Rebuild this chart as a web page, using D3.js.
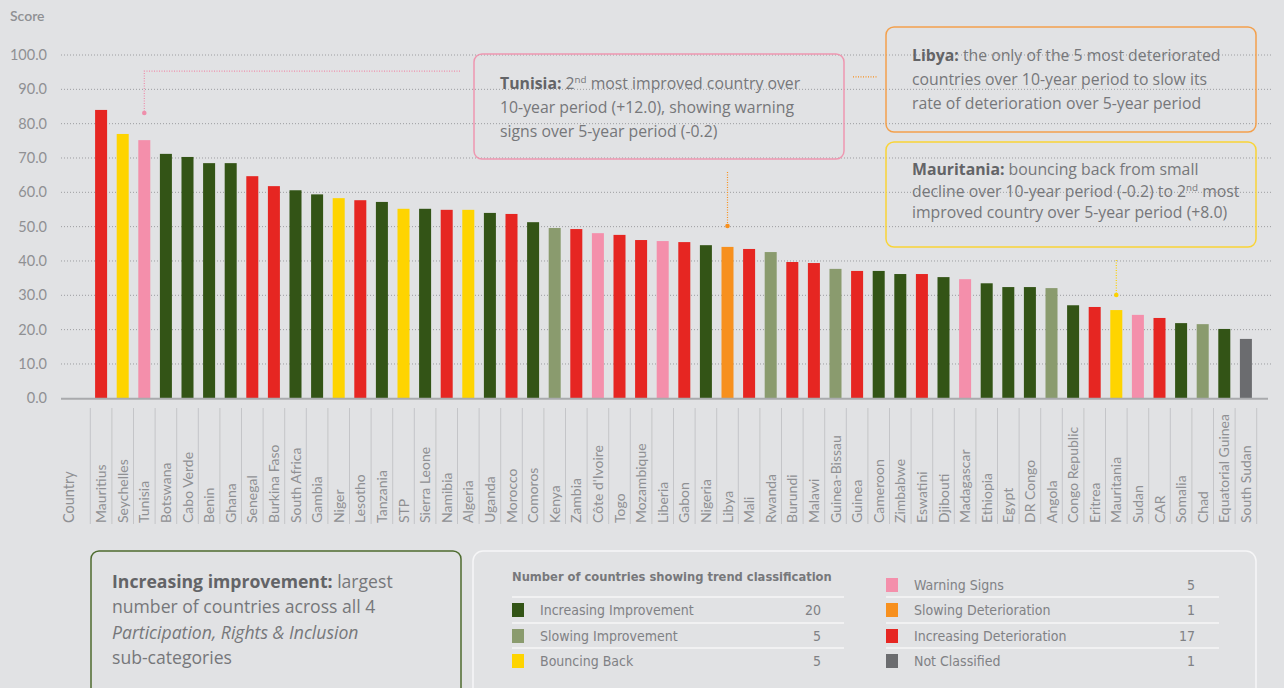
<!DOCTYPE html>
<html>
<head>
<meta charset="utf-8">
<script src="https://cdn.jsdelivr.net/npm/d3@7"></script>
<style>
  body { margin: 0; background: #e1e2e4; }
  svg { display: block; font-family: Lato, "Open Sans", sans-serif; }
  .note { font-family: "Open Sans", Lato, sans-serif; }
  .cond { font-family: "Liberation Sans Narrow", "DejaVu Sans Condensed", "Roboto Condensed", Lato, sans-serif; font-stretch: condensed; }
</style>
</head>
<body>
<svg width="1284" height="688"></svg>
<script>
const countries = ["Mauritius", "Seychelles", "Tunisia", "Botswana", "Cabo Verde", "Benin", "Ghana", "Senegal",
  "Burkina Faso", "South Africa", "Gambia", "Niger", "Lesotho", "Tanzania", "STP", "Sierra Leone", "Namibia",
  "Algeria", "Uganda", "Morocco", "Comoros", "Kenya", "Zambia", "Côte d'Ivoire", "Togo", "Mozambique", "Liberia",
  "Gabon", "Nigeria", "Libya", "Mali", "Rwanda", "Burundi", "Malawi", "Guinea-Bissau", "Guinea", "Cameroon",
  "Zimbabwe", "Eswatini", "Djibouti", "Madagascar", "Ethiopia", "Egypt", "DR Congo", "Angola", "Congo Republic",
  "Eritrea", "Mauritania", "Sudan", "CAR", "Somalia", "Chad", "Equatorial Guinea", "South Sudan"];

const scores = [84.0, 77.0, 75.2, 71.2, 70.3, 68.5, 68.5, 64.7, 61.8, 60.6, 59.4, 58.3, 57.7, 57.2, 55.2, 55.2,
  54.9, 54.9, 54.0, 53.7, 51.3, 49.6, 49.3, 48.1, 47.6, 46.1, 45.8, 45.5, 44.6, 44.1, 43.5, 42.6, 39.7, 39.4,
  37.7, 37.1, 37.1, 36.2, 36.2, 35.3, 34.7, 33.5, 32.4, 32.4, 32.1, 27.1, 26.6, 25.7, 24.3, 23.4, 21.9, 21.6,
  20.2, 17.3];

// II increasing improvement, SI slowing improvement, BB bouncing back, WS warning signs,
// SD slowing deterioration, ID increasing deterioration, NC not classified
const trends = ["ID", "BB", "WS", "II", "II", "II", "II", "ID", "ID", "II", "II", "BB", "ID", "II", "BB", "II",
  "ID", "BB", "II", "ID", "II", "SI", "ID", "WS", "ID", "ID", "WS", "ID", "II", "SD", "ID", "SI", "ID", "ID",
  "SI", "ID", "II", "II", "ID", "II", "WS", "II", "II", "II", "SI", "II", "ID", "BB", "WS", "ID", "II", "SI",
  "II", "NC"];

const trendKeys = ["II", "SI", "BB", "WS", "SD", "ID", "NC"];
const trendNames = ["Increasing Improvement", "Slowing Improvement", "Bouncing Back", "Warning Signs",
  "Slowing Deterioration", "Increasing Deterioration", "Not Classified"];
const trendColors = ["#335416", "#8a9b6e", "#fed400", "#f48fab", "#f7901e", "#e62622", "#6b6c6f"];
const trendCounts = [20, 5, 5, 5, 1, 17, 1];

const yTicks = [0, 10, 20, 30, 40, 50, 60, 70, 80, 90, 100];

const svg = d3.select("svg");

const x = d3.scaleBand().domain(countries).range([90.3, 1256.7]).paddingInner(0.444).paddingOuter(0.222);
const xCol = d3.scaleBand().domain(countries).range([90.3, 1256.7]).padding(0);
const y = d3.scaleLinear().domain([0, 100]).range([398.3, 55]);
const color = d3.scaleOrdinal().domain(trendKeys).range(trendColors);

// grid
svg.append("g")
  .selectAll("line")
  .data(yTicks.filter(d => d > 0))
  .join("line")
  .attr("x1", 61).attr("x2", 1273)
  .attr("y1", d => y(d)).attr("y2", d => y(d))
  .attr("stroke", "#9c9da0")
  .attr("stroke-width", 1)
  .attr("stroke-dasharray", "1,2");

// y axis
const yAxis = svg.append("g")
  .attr("transform", "translate(61,0)")
  .call(d3.axisLeft(y).tickValues(yTicks).tickFormat(d3.format(".1f")).tickSize(0).tickPadding(14));
yAxis.select(".domain").remove();
yAxis.selectAll("text")
  .attr("fill", "#8f9093")
  .style("font-size", "14.5px")
  .style("font-family", "Lato, sans-serif");

svg.append("text")
  .attr("x", 10).attr("y", 21)
  .attr("fill", "#8f9093")
  .style("font-size", "14px")
  .style("font-weight", 600)
  .text("Score");

// bars
svg.append("g")
  .selectAll("rect")
  .data(countries)
  .join("rect")
  .attr("x", d => x(d))
  .attr("width", x.bandwidth())
  .attr("y", (d, i) => y(scores[i]))
  .attr("height", (d, i) => y(0) - y(scores[i]))
  .attr("fill", (d, i) => color(trends[i]));

// baseline
svg.append("line")
  .attr("x1", 61).attr("x2", 1268)
  .attr("y1", y(0) + 0.5).attr("y2", y(0) + 0.5)
  .attr("stroke", "#a9aaad")
  .attr("stroke-width", 2);

// category separators
svg.append("g")
  .selectAll("line")
  .data(countries.map(d => xCol(d)).concat([xCol.range()[1]]))
  .join("line")
  .attr("x1", d => d).attr("x2", d => d)
  .attr("y1", 408).attr("y2", 524)
  .attr("stroke", "#c4c5c8")
  .attr("stroke-width", 1);

// country labels
svg.append("g")
  .selectAll("text")
  .data(countries)
  .join("text")
  .attr("transform", d => "translate(" + (x(d) + x.bandwidth() / 2) + ",523) rotate(-90)")
  .attr("dy", "0.36em")
  .attr("fill", "#8f9093")
  .style("font-size", "14px")
  .text(d => d);

svg.append("text")
  .attr("transform", "translate(69,523) rotate(-90)")
  .attr("dy", "0.36em")
  .attr("fill", "#8f9093")
  .style("font-size", "14.5px")
  .text("Country");

// annotation boxes
const boxes = [
  { x: 474, y: 54, w: 370, h: 105, stroke: "#ee97b0", lineH: 24, tx: 500, ty: 89,
    lines: [[["b", "Tunisia: "], ["", "2"], ["sup", "nd"], ["", " most improved country over"]],
            [["", "10-year period (+12.0), showing warning"]],
            [["", "signs over 5-year period (-0.2)"]]] },
  { x: 886, y: 27, w: 370, h: 105, stroke: "#f3a04c", lineH: 24, tx: 912, ty: 61,
    lines: [[["b", "Libya: "], ["", "the only of the 5 most deteriorated"]],
            [["", "countries over 10-year period to slow its"]],
            [["", "rate of deterioration over 5-year period"]]] },
  { x: 886, y: 142, w: 370, h: 105, stroke: "#f9d436", lineH: 21.5, tx: 912, ty: 175,
    lines: [[["b", "Mauritania: "], ["", "bouncing back from small"]],
            [["", "decline over 10-year period (-0.2) to 2"], ["sup", "nd"], ["", " most"]],
            [["", "improved country over 5-year period (+8.0)"]]] },
  { x: 91, y: 551, w: 370, h: 150, stroke: "#4d6b2e", lineH: 25.3, tx: 112, ty: 588, size: 17.6,
    lines: [[["b", "Increasing improvement: "], ["", "largest"]],
            [["", "number of countries across all 4"]],
            [["i", "Participation, Rights & Inclusion"]],
            [["", "sub-categories"]]] }
];

boxes.forEach(b => {
  svg.append("rect")
    .attr("x", b.x).attr("y", b.y).attr("width", b.w).attr("height", b.h)
    .attr("rx", 8)
    .attr("fill", "none")
    .attr("stroke", b.stroke)
    .attr("stroke-width", 1.5);
  const size = b.size || 15.8;
  b.lines.forEach((parts, li) => {
    const t = svg.append("text")
      .attr("class", "note")
      .attr("x", b.tx).attr("y", b.ty + li * b.lineH)
      .attr("fill", "#76777a")
      .style("font-size", size + "px");
    parts.forEach(p => {
      const s = t.append("tspan").text(p[1]);
      if (p[0] === "b") s.attr("fill", "#636467").style("font-weight", 700);
      if (p[0] === "i") s.style("font-style", "italic");
      if (p[0] === "sup") s.style("font-size", (size * 0.62) + "px").attr("baseline-shift", "super");
    });
  });
});

// connectors
const connectors = [
  { country: "Tunisia", from: 95.3, to: 83.1, stroke: "#ee8fab", x0: 460 },
  { country: "Libya", from: 65.9, to: 50.2, stroke: "#f7901e" },
  { country: "Mauritania", from: 40.3, to: 30.1, stroke: "#fcd200" }
];
connectors.forEach(c => {
  const cx = x(c.country) + x.bandwidth() / 2;
  const path = d3.path();
  if (c.x0) {
    path.moveTo(c.x0, y(c.from));
    path.lineTo(cx, y(c.from));
  } else {
    path.moveTo(cx, y(c.from));
  }
  path.lineTo(cx, y(c.to));
  svg.append("path")
    .attr("d", path.toString())
    .attr("fill", "none")
    .attr("stroke", c.stroke)
    .attr("stroke-width", 1.2)
    .attr("stroke-dasharray", "1,1.5");
  svg.append("circle")
    .attr("cx", cx).attr("cy", y(c.to))
    .attr("r", 2.3)
    .attr("fill", c.stroke);
});
// short stub next to the Libya box
svg.append("line")
  .attr("x1", 853).attr("x2", 877)
  .attr("y1", y(93.6)).attr("y2", y(93.6))
  .attr("stroke", "#f7901e")
  .attr("stroke-width", 1.2)
  .attr("stroke-dasharray", "1,1.5");

// legend
svg.append("rect")
  .attr("x", 473).attr("y", 551).attr("width", 783).attr("height", 150)
  .attr("rx", 10)
  .attr("fill", "none")
  .attr("stroke", "#f6f6f7")
  .attr("stroke-width", 1.5);

const legend = svg.append("g").attr("class", "cond");
legend.append("text")
  .attr("x", 512).attr("y", 581)
  .attr("fill", "#77787b")
  .style("font-size", "12.8px")
  .style("font-weight", 700)
  .text("Number of countries showing trend classification");

const rowY = [610, 636, 661, 585, 610, 636, 661];
const colX = [512, 512, 512, 886, 886, 886, 886];
const colEnd = [821, 821, 821, 1195, 1195, 1195, 1195];

// separators
[597, 623, 648].forEach(sy => {
  [[512, 844], [886, 1219]].forEach(r => {
    legend.append("line")
      .attr("x1", r[0]).attr("x2", r[1])
      .attr("y1", sy).attr("y2", sy)
      .attr("stroke", "#f6f6f7")
      .attr("stroke-width", 1.5);
  });
});

trendKeys.forEach((k, i) => {
  legend.append("rect")
    .attr("x", colX[i]).attr("y", rowY[i] - 7)
    .attr("width", 12).attr("height", 14)
    .attr("fill", trendColors[i]);
  legend.append("text")
    .attr("x", colX[i] + 28).attr("y", rowY[i])
    .attr("dy", "0.35em")
    .attr("fill", "#808184")
    .style("font-size", "14px")
    .text(trendNames[i]);
  legend.append("text")
    .attr("x", colEnd[i]).attr("y", rowY[i])
    .attr("dy", "0.35em")
    .attr("text-anchor", "end")
    .attr("fill", "#808184")
    .style("font-size", "14px")
    .text(trendCounts[i]);
});
</script>
</body>
</html>
